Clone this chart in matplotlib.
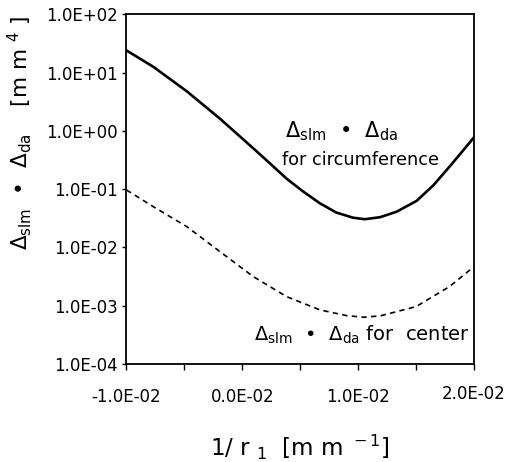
import matplotlib
matplotlib.use("Agg")
import matplotlib.pyplot as plt
import matplotlib.transforms as mtransforms

plt.rcParams['font.family'] = ['DejaVu Sans']
plt.rcParams['mathtext.fontset'] = 'dejavusans'

# 1/r1 [mm^-1]
x_circ = [-0.0100, -0.00769, -0.00480, -0.00193, 0.00095, 0.00240, 0.00383,
          0.00525, 0.00668, 0.00810, 0.00955, 0.01056, 0.01188, 0.01333,
          0.01505, 0.01650, 0.01790, 0.01879, 0.0200]
y_circ = [24.0, 12.6, 4.79, 1.62, 0.501, 0.275, 0.151,
          0.0912, 0.0575, 0.0398, 0.0324, 0.0305, 0.0330, 0.0411,
          0.0631, 0.117, 0.245, 0.398, 0.776]

x_center = [-0.0100, -0.00769, -0.00480, -0.00193, 0.00095, 0.00383, 0.00671,
            0.00901, 0.01044, 0.01188, 0.01500, 0.01790, 0.0200]
y_center = [0.0968, 0.0501, 0.0228, 0.00847, 0.00316, 0.00143, 0.000847,
            0.000676, 0.000635, 0.000668, 0.000966, 0.00214, 0.00469]

x_ticks = [-0.01, -0.005, 0.0, 0.005, 0.01, 0.015, 0.02]
x_tick_labels = ['-1.0E-02', '', '0.0E-02', '', '1.0E-02', '', '2.0E-02']
y_ticks = [1e-4, 1e-3, 1e-2, 1e-1, 1e0, 1e1, 1e2]
y_tick_labels = ['1.0E-04', '1.0E-03', '1.0E-02', '1.0E-01', '1.0E+00', '1.0E+01', '1.0E+02']

fig = plt.figure(figsize=(5.15, 4.62), dpi=100)
ax = fig.add_axes([0.2456, 0.2121, 0.6748, 0.7569])

ax.plot(x_circ, y_circ, color='black', lw=1.9, solid_capstyle='round', solid_joinstyle='round')
ax.plot(x_center, y_center, color='black', lw=1.2, linestyle=(0, (3.2, 2.6)))

ax.set_yscale('log')
ax.set_xlim(-0.01, 0.02)
ax.set_ylim(1e-4, 1e2)
ax.set_xticks(x_ticks)
ax.set_xticklabels(x_tick_labels)
ax.set_yticks(y_ticks)
ax.set_yticklabels(y_tick_labels)
ax.minorticks_off()
ax.tick_params(axis='x', direction='out', length=4.5, width=1.0, pad=13, labelsize=12)
ax.tick_params(axis='y', direction='out', length=3, width=1.0, pad=3, labelsize=12)
for s in ax.spines.values():
    s.set_linewidth(1.3)

# last x tick label in reference sits slightly higher
lbl = ax.get_xticklabels()[-1]
lbl.set_transform(lbl.get_transform() + mtransforms.ScaledTranslation(0, 3/100, fig.dpi_scale_trans))

ax.text(0.456, 0.666, r'Δ$_{\rm slm}$  •  Δ$_{\rm da}$', transform=ax.transAxes,
        ha='left', va='center', fontsize=15)
ax.text(0.4475, 0.583, 'for circumference', transform=ax.transAxes,
        ha='left', va='center', fontsize=12.7)
ax.text(0.988, 0.083, r'Δ$_{\rm slm}$  •  Δ$_{\rm da}$ for  center', transform=ax.transAxes,
        ha='right', va='center', fontsize=14)

fig.text(20/515, 1-133.5/462, r'Δ$_{\rm slm}$  •  Δ$_{\rm da}$    [m m $^{4}$ ]',
         rotation=90, ha='center', va='center', fontsize=15.5)
fig.text(300/515, 1-447/462, r'1/ r $_{\rm 1}$  [m m $^{\rm -1}$]',
         ha='center', va='center', fontsize=16.5)

fig.savefig('out.png', dpi=100)
